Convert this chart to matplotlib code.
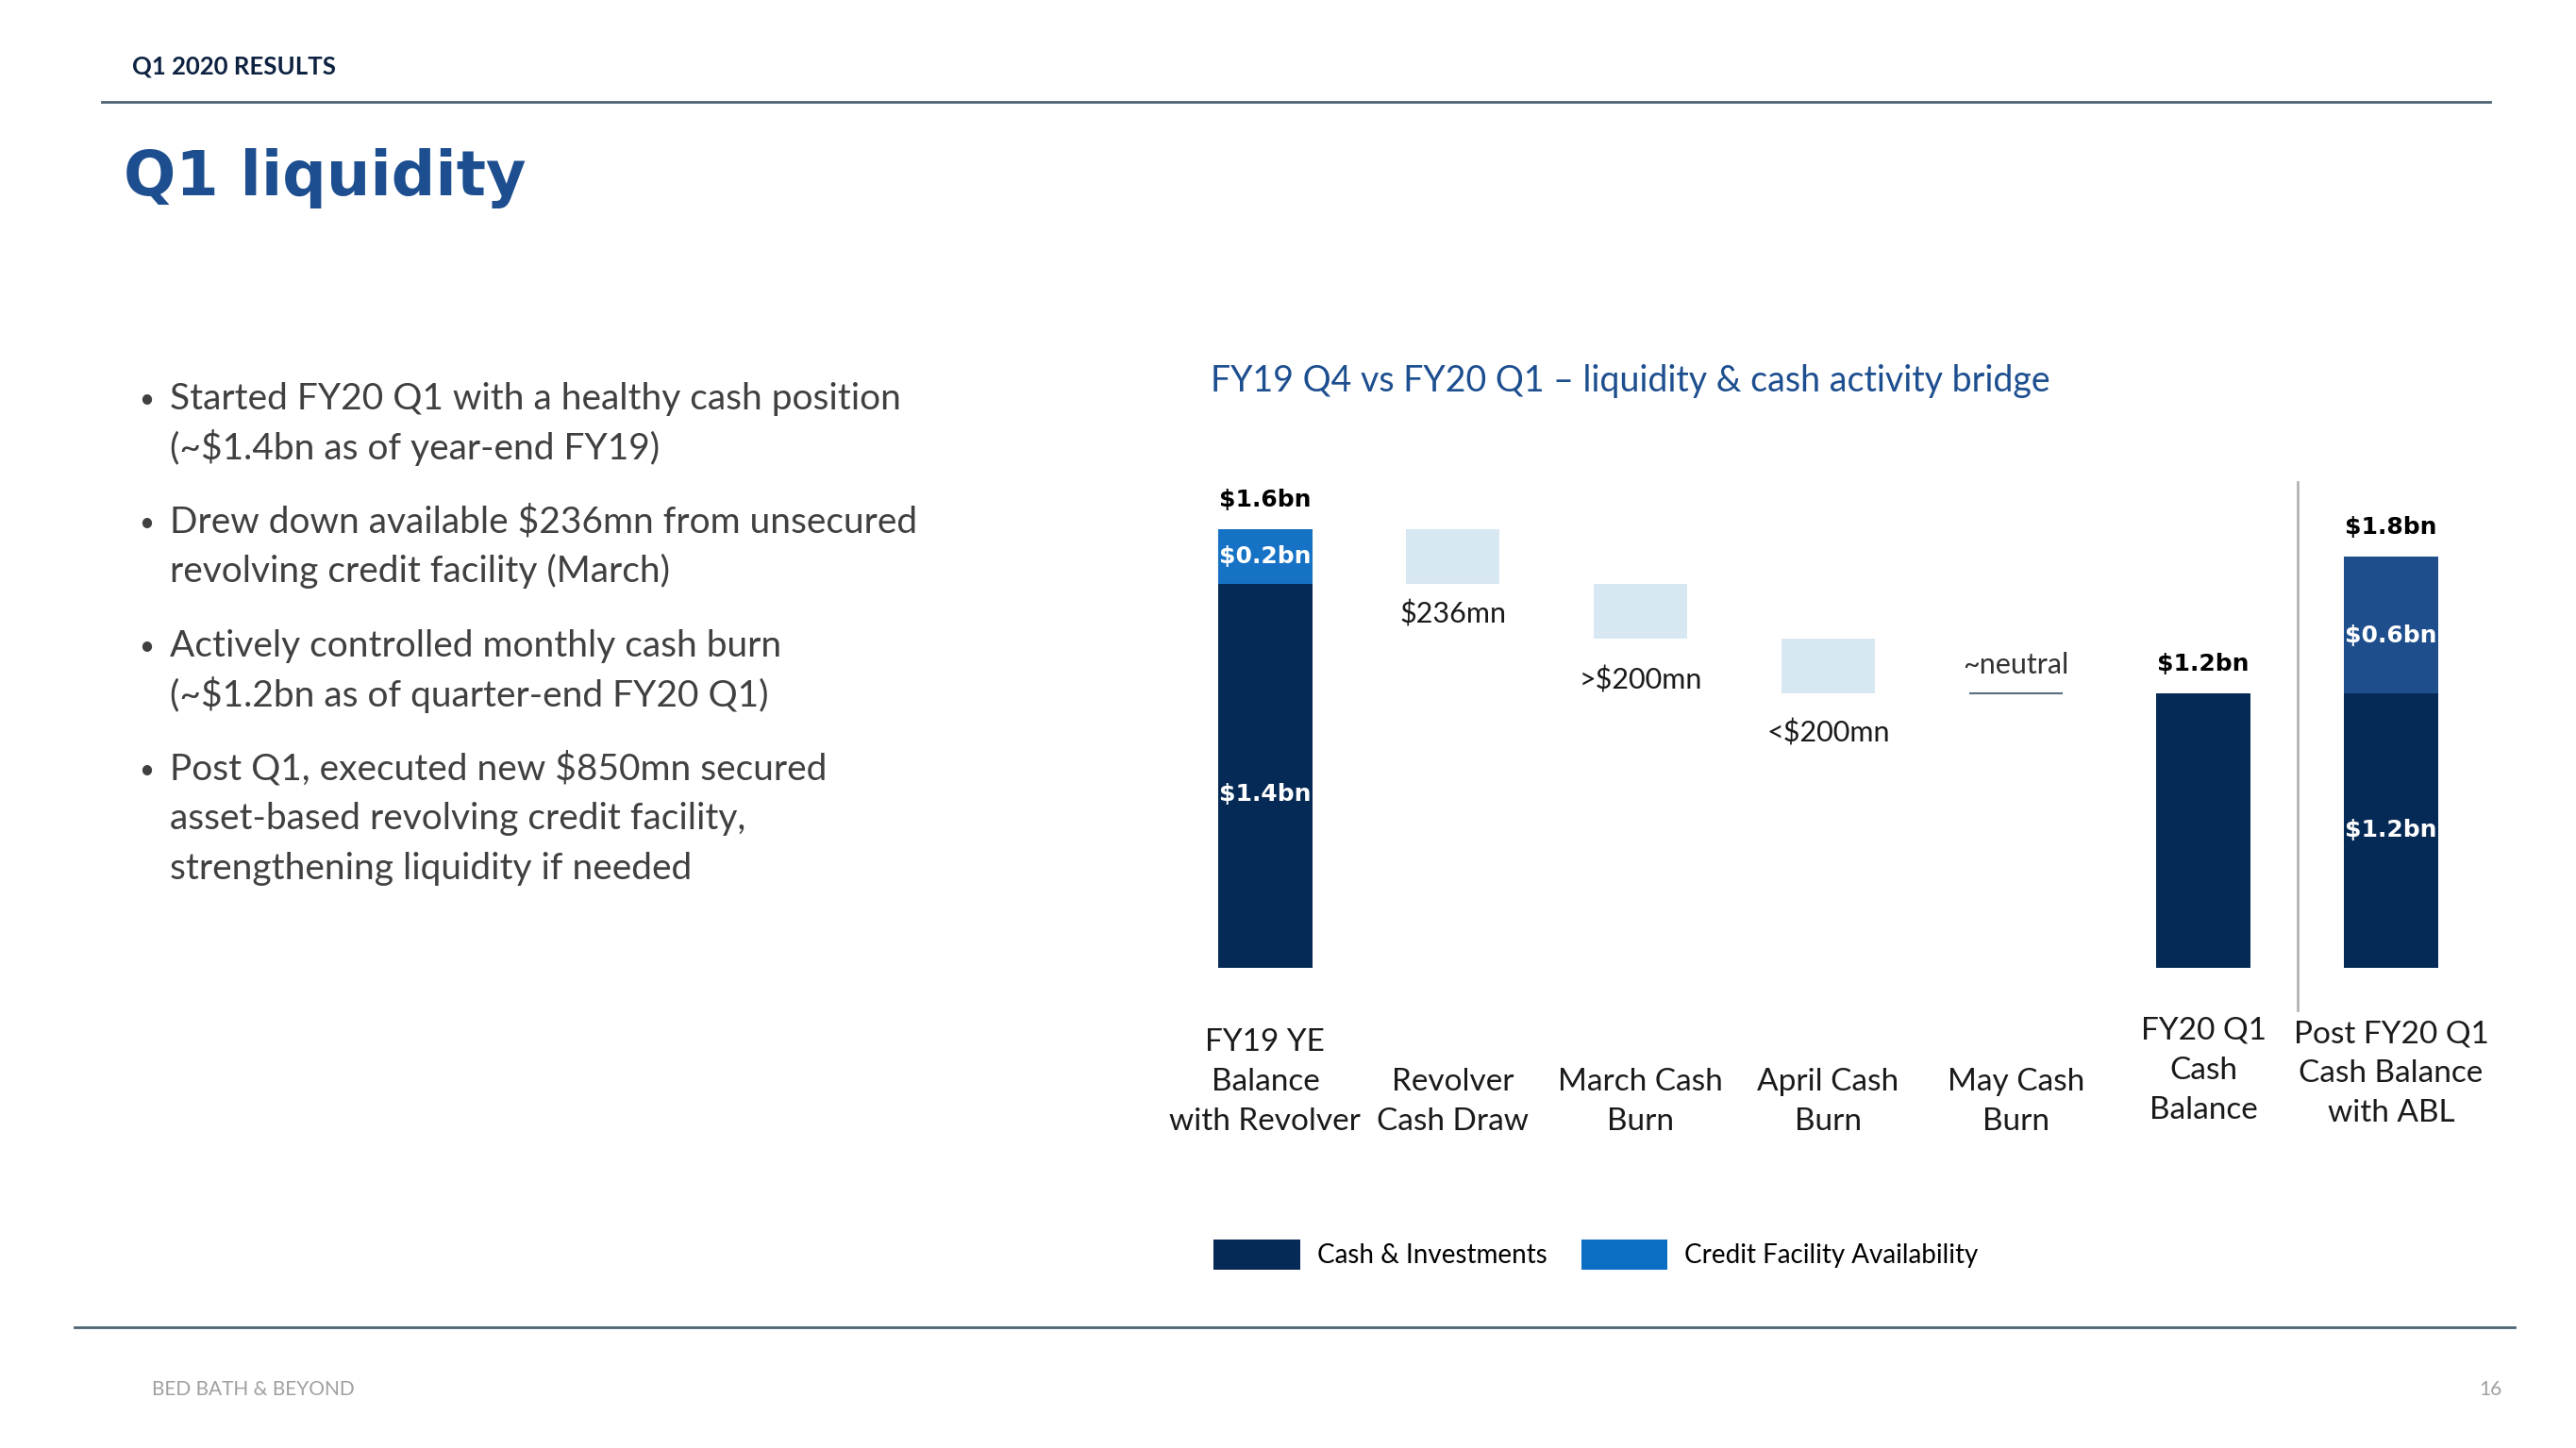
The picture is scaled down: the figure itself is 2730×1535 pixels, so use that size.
import numpy as np
import matplotlib.pyplot as plt
from matplotlib.lines import Line2D
from matplotlib.patches import Patch
from matplotlib.transforms import blended_transform_factory

W, H = 2730, 1535

# chart data (bar heights as drawn on the slide, labels as printed)
categories = [
    "FY19 YE\nBalance\nwith Revolver",
    "Revolver\nCash Draw",
    "March Cash\nBurn",
    "April Cash\nBurn",
    "May Cash\nBurn",
    "FY20 Q1\nCash\nBalance",
    "Post FY20 Q1\nCash Balance\nwith ABL",
]
start_cash = 1.4
start_credit = 0.2
bridge_steps = [0.2, 0.2, 0.2, 0.0]          # revolver, march, april, may
bridge_labels = ["$236mn", ">$200mn", "<$200mn", "~neutral"]
end_cash = [1.0, 1.0]                         # FY20 Q1, post FY20 Q1
end_abl = [0.0, 0.5]
total_labels = ["$1.6bn", "$1.2bn", "$1.8bn"]
start_seg_labels = ["$1.4bn", "$0.2bn"]
post_seg_labels = ["$1.2bn", "$0.6bn"]
legend_labels = ["Cash & Investments", "Credit Facility Availability"]

bullets = [
    ["Started FY20 Q1 with a healthy cash position", "(~$1.4bn as of year-end FY19)"],
    ["Drew down available $236mn from unsecured", "revolving credit facility (March)"],
    ["Actively controlled monthly cash burn", "(~$1.2bn as of quarter-end FY20 Q1)"],
    ["Post Q1, executed new $850mn secured", "asset-based revolving credit facility,",
     "strengthening liquidity if needed"],
]

NAVY = "#062a56"
BLUE = "#1672c4"
ABL_BLUE = "#1f4e8c"
LIGHT = "#d8e8f3"
TITLE = "#1d4e8f"
RULE = "#4c6475"
TXT = "#1a1a1a"

plt.rcParams["font.family"] = ["Lato", "DejaVu Sans"]


def fx(px):
    return px / W


def fy(py):
    return 1 - py / H


fig = plt.figure(figsize=(W / 100, H / 100), dpi=100)
fig.patch.set_facecolor("white")

# header
fig.text(fx(140), fy(70), "Q1 2020 RESULTS", fontsize=18.5, fontweight="bold",
         color="#0d2240", va="center", ha="left")
fig.add_artist(Line2D([fx(108), fx(2639)], [fy(108), fy(108)], color=RULE, linewidth=2))
fig.text(fx(131), fy(207), "Q1 liquidity", fontsize=47, fontweight="bold",
         color=TITLE, va="baseline", ha="left", family="DejaVu Sans")

# bullet list
baseline = 434
for group in bullets:
    fig.text(fx(147), fy(baseline - 2), "\u2022", fontsize=20, color="#404040",
             va="baseline", ha="left")
    for line in group:
        fig.text(fx(180), fy(baseline), line, fontsize=28, color="#404040",
                 va="baseline", ha="left")
        baseline += 52.5
    baseline += 26

fig.text(fx(1283), fy(404), "FY19 Q4 vs FY20 Q1 \u2013 liquidity & cash activity bridge",
         fontsize=27, color=TITLE, va="center", ha="left")

# chart axes
ax = fig.add_axes([fx(1241.5), fy(1025.5), (2633.5 - 1241.5) / W, 581 / H])
ax.set_xlim(-0.5, 6.5)
ax.set_ylim(0, 2.0)
ax.axis("off")
x = np.arange(len(categories))
bw = 0.5

# starting balance
ax.bar(x[0], start_cash, bw, color=NAVY, linewidth=0)
ax.bar(x[0], start_credit, bw, bottom=start_cash, color=BLUE, linewidth=0)

# bridge boxes
label_offsets = [-32, -44, -42, 30]
top = start_cash + start_credit
for i, step in enumerate(bridge_steps):
    xi = x[1 + i]
    if step > 0:
        ax.bar(xi, step, bw, bottom=top - step, color=LIGHT, linewidth=0)
        ax.annotate(bridge_labels[i], (xi, top - step), xytext=(0, label_offsets[i]),
                    textcoords="offset pixels", ha="center", va="center",
                    fontsize=22, color=TXT)
    else:
        ax.hlines(top, xi - bw / 2, xi + bw / 2, color="#5a6b7d", linewidth=1.5)
        ax.annotate(bridge_labels[i], (xi, top), xytext=(0, label_offsets[i]),
                    textcoords="offset pixels", ha="center", va="center",
                    fontsize=22, color="#333333")
    top -= step

# ending balances
ax.bar(x[5:], end_cash, bw, color=NAVY, linewidth=0)
ax.bar(x[6], end_abl[1], bw, bottom=end_cash[1], color=ABL_BLUE, linewidth=0)

# totals and segment labels
totals_at = [(x[0], start_cash + start_credit), (x[5], end_cash[0]),
             (x[6], end_cash[1] + end_abl[1])]
for (xi, yi), lab in zip(totals_at, total_labels):
    ax.annotate(lab, (xi, yi), xytext=(0, 31), textcoords="offset pixels",
                ha="center", va="center", fontsize=18, fontweight="bold",
                color="black", family="DejaVu Sans")

seg_kw = dict(ha="center", va="center", fontsize=18, fontweight="bold",
              color="white", family="DejaVu Sans")
ax.text(x[0], start_cash / 2 - 0.07, start_seg_labels[0], **seg_kw)
ax.text(x[0], start_cash + start_credit / 2, start_seg_labels[1], **seg_kw)
ax.text(x[6], end_cash[1] / 2, post_seg_labels[0], **seg_kw)
ax.text(x[6], end_cash[1] + end_abl[1] / 2 - 0.04, post_seg_labels[1], **seg_kw)

# separator before the post-Q1 bar
ax.axvline(5.5, ymin=-0.078, ymax=0.886, color="#b3b3b3", linewidth=2, clip_on=False)

# category labels
trans = blended_transform_factory(ax.transData, fig.transFigure)
label_bottoms = [1204, 1204, 1204, 1204, 1204, 1192, 1195]
for xi, lab, yb in zip(x, categories, label_bottoms):
    ax.text(xi, fy(yb), lab, transform=trans, ha="center", va="bottom",
            fontsize=24, color=TXT, linespacing=1.5, multialignment="center")

# legend
handles = [Patch(facecolor=NAVY, edgecolor="none"), Patch(facecolor="#0a6fc2", edgecolor="none")]
fig.legend(handles, legend_labels, loc="center left", bbox_to_anchor=(fx(1286), fy(1330)),
           ncol=2, frameon=False, fontsize=20, handlelength=3.3, handleheight=1.35,
           handletextpad=0.65, columnspacing=1.3, borderpad=0, borderaxespad=0)

# footer
fig.add_artist(Line2D([fx(79), fx(2665)], [fy(1407), fy(1407)], color=RULE, linewidth=2))
fig.text(fx(161), fy(1473), "BED BATH & BEYOND", fontsize=15, color="#a0a0a0",
         va="center", ha="left")
fig.text(fx(2652), fy(1473), "16", fontsize=15, color="#a0a0a0", va="center", ha="right")

fig.savefig("out.png", dpi=100)
